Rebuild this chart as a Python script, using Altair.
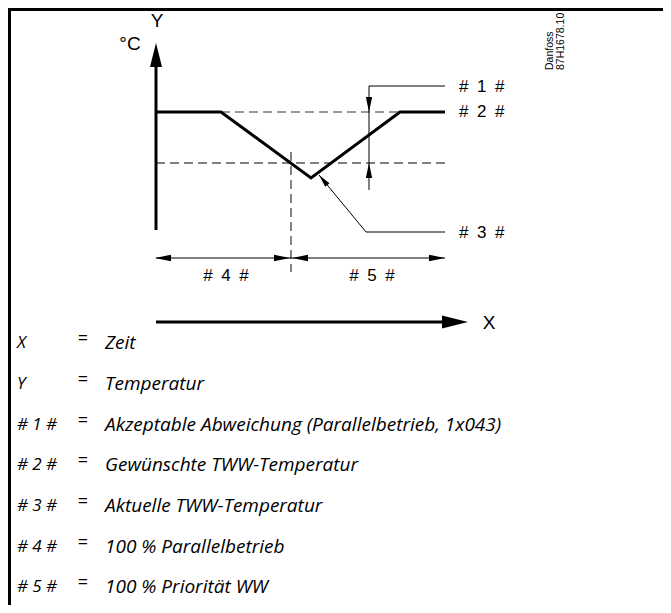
import altair as alt
import pandas as pd

# ---- picture-space coordinates of the schematic (x to the right, y downwards) ----
curve_x = [156, 221, 311, 400, 445]
curve_y = [112, 112, 178, 112, 112]

setpoint_dash_x = [221, 400]
setpoint_dash_y = [112, 112]

lower_dash_x = [156, 445]
lower_dash_y = [163, 163]

split_dash_x = [291, 291]
split_dash_y = [152, 272]

yaxis_x = [156, 156]
yaxis_y = [230, 62]
xaxis_x = [156, 446]
xaxis_y = [322, 322]

dev_leader_x = [445, 369, 369]
dev_leader_y = [86, 86, 190]
act_leader_x = [319, 366, 445]
act_leader_y = [175, 232, 232]
dim_line_x = [156, 445]
dim_line_y = [258, 258]

frame_top_x = [8, 663]
frame_top_y = [9.5, 9.5]
frame_left_x = [9.5, 9.5]
frame_left_y = [8, 605]

big_arrow_x = [156, 468]
big_arrow_y = [43, 322]
big_arrow_ang = [0, 90]
big_arrow_len = [24, 26]

small_arrow_x = [155, 445, 290, 292, 369, 369, 319]
small_arrow_y = [258, 258, 258, 258, 112, 163, 175]
small_arrow_ang = [270, 90, 90, 270, 180, 0, 320]
small_arrow_len = [16, 16, 16, 16, 15, 15, 13]

tag_text = ["#\u20021\u2002#", "#\u20022\u2002#", "#\u20023\u2002#"]
tag_x = [459, 459, 459]
tag_y = [87, 112, 233]

span_text = ["#\u20024\u2002#", "#\u20025\u2002#"]
span_x = [226, 372]
span_y = [276, 276]

axis_text = ["Y", "°C", "X"]
axis_tx = [157, 130, 489]
axis_ty = [21, 44, 323]

stamp_text = ["Danfoss", "87H1678.10"]
stamp_x = [550, 561]
stamp_y = [70, 70]

legend_keys = ["X", "Y", "# 1 #", "# 2 #", "# 3 #", "# 4 #", "# 5 #"]
legend_desc = [
    "Zeit",
    "Temperatur",
    "Akzeptable Abweichung (Parallelbetrieb, 1x043)",
    "Gewünschte TWW-Temperatur",
    "Aktuelle TWW-Temperatur",
    "100 % Parallelbetrieb",
    "100 % Priorität WW",
]
legend_y = [343, 384, 425, 465, 506, 547, 587]

# ---------------------------------------------------------------------------
X = alt.X("x:Q", scale=alt.Scale(domain=[8, 663], nice=False, zero=False), axis=None)
Y = alt.Y("y:Q", scale=alt.Scale(domain=[8, 605], nice=False, zero=False, reverse=True), axis=None)


def path_df(xs, ys):
    return pd.DataFrame({"x": xs, "y": ys, "i": list(range(len(xs)))})


def line(xs, ys, **style):
    return alt.Chart(path_df(xs, ys)).mark_line(**style).encode(x=X, y=Y, order="i:Q")


ARROW_BIG = "M0,0L0.5,2L-0.5,2Z"
ARROW_SMALL = "M0,0L0.42,2L-0.42,2Z"


def arrows(xs, ys, angs, lens, shape):
    df = pd.DataFrame({"x": xs, "y": ys, "ang": angs, "sz": [l * l for l in lens]})
    return alt.Chart(df).mark_point(
        shape=shape, filled=True, fill="black", strokeWidth=0, opacity=1
    ).encode(
        x=X, y=Y,
        angle=alt.Angle("ang:Q", scale=None),
        size=alt.Size("sz:Q", scale=None),
    )


def texts(labels, xs, ys, **style):
    df = pd.DataFrame({"x": xs, "y": ys, "t": labels})
    return alt.Chart(df).mark_text(**style).encode(x=X, y=Y, text="t:N")


layers = [
    line(frame_top_x, frame_top_y, color="black", strokeWidth=3),
    line(frame_left_x, frame_left_y, color="black", strokeWidth=3),
    line(setpoint_dash_x, setpoint_dash_y, color="#777777", strokeWidth=1.3, strokeDash=[9, 5]),
    line(lower_dash_x, lower_dash_y, color="black", strokeWidth=1.2, strokeDash=[9, 5]),
    line(split_dash_x, split_dash_y, color="#333333", strokeWidth=1.2, strokeDash=[9, 5]),
    line(dev_leader_x, dev_leader_y, color="black", strokeWidth=1),
    line(act_leader_x, act_leader_y, color="black", strokeWidth=1),
    line(dim_line_x, dim_line_y, color="black", strokeWidth=1),
    line(yaxis_x, yaxis_y, color="black", strokeWidth=3),
    line(xaxis_x, xaxis_y, color="black", strokeWidth=3),
    line(curve_x, curve_y, color="black", strokeWidth=3, strokeJoin="miter"),
    arrows(big_arrow_x, big_arrow_y, big_arrow_ang, big_arrow_len, ARROW_BIG),
    arrows(small_arrow_x, small_arrow_y, small_arrow_ang, small_arrow_len, ARROW_SMALL),
    texts(tag_text, tag_x, tag_y, align="left", baseline="middle",
          font="Liberation Sans", fontSize=17, color="black"),
    texts(span_text, span_x, span_y, align="center", baseline="middle",
          font="Liberation Sans", fontSize=17, color="black"),
    texts(axis_text, axis_tx, axis_ty, align="center", baseline="middle",
          font="Liberation Sans", fontSize=19, color="black"),
    texts(stamp_text, stamp_x, stamp_y, align="left", baseline="middle", angle=270,
          font="Liberation Sans", fontSize=10.5, color="black"),
    texts(legend_keys, [17] * 7, legend_y, align="left", baseline="middle",
          font="Open Sans", fontStyle="italic", fontSize=17, color="black"),
    texts(["="] * 7, [83] * 7, [v - 4 for v in legend_y], align="center", baseline="middle",
          font="Open Sans", fontSize=18, color="black"),
    texts(legend_desc, [105] * 7, legend_y, align="left", baseline="middle",
          font="Open Sans", fontStyle="italic", fontSize=19, color="black"),
]

chart = alt.layer(*layers).properties(
    width=655, height=597, padding=0,
    autosize=alt.AutoSizeParams(type="none"),
    background="white",
).configure_view(stroke=None)

chart.save("out.html", embed_options={"renderer": "svg", "actions": False})
